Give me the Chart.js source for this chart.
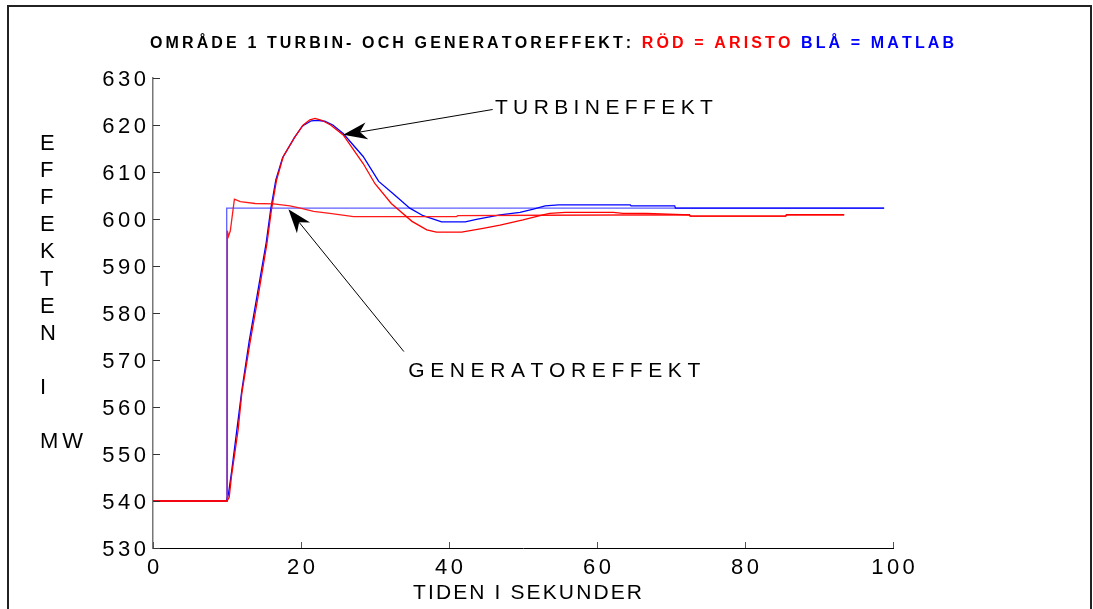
<!DOCTYPE html>
<html>
<head>
<meta charset="utf-8">
<script src="https://cdn.jsdelivr.net/npm/chart.js@4.4.1/dist/chart.umd.min.js"></script>
<style>
  html, body { margin: 0; padding: 0; background: #fff; }
  canvas { display: block; }
</style>
</head>
<body>
<canvas id="c" width="1093" height="609"></canvas>
<script>
// ---------------- DATA ----------------
const xTicks = [0, 20, 40, 60, 80, 100];
const yTicks = [530, 540, 550, 560, 570, 580, 590, 600, 610, 620, 630];

// Turbine power, ARISTO (red)
const turbRedX = [0, 10.0, 10.3, 10.6, 11.5, 12.0, 13.1, 14.2, 15.4, 16.0, 16.7, 17.6, 19.2, 20.3, 21.2, 21.9, 22.8, 24.0, 25.7, 28.4, 30.0, 32.2, 35.0, 37.0, 38.3, 41.7, 44.6, 46.9, 50.0, 52.7, 53.6, 55.7, 62.2, 63.5, 66.7, 72.5, 72.6, 85.5, 85.6, 93.4];
const turbRedY = [540, 540, 540.8, 545.2, 555.1, 562.9, 573.6, 583.5, 594.8, 601.9, 608.3, 613.3, 617.5, 620.0, 621.1, 621.4, 621.0, 620.0, 617.9, 611.8, 607.5, 603.3, 599.5, 597.7, 597.2, 597.2, 598.0, 598.7, 599.8, 600.9, 601.2, 601.4, 601.4, 601.2, 601.2, 600.9, 600.6, 600.6, 600.9, 600.9];

// Generator power, ARISTO (red)
const genRedX = [0, 10.0, 10.05, 10.2, 10.45, 11.0, 11.8, 13.8, 16.3, 18.5, 19.9, 21.7, 23.9, 27.1, 41.0, 41.2, 53.0, 72.5, 72.6, 85.5, 85.6, 93.4];
const genRedY = [540, 540, 597.5, 596.3, 597.5, 604.2, 603.7, 603.3, 603.2, 602.8, 602.3, 601.6, 601.2, 600.5, 600.5, 600.7, 600.8, 600.9, 600.6, 600.6, 600.9, 600.9];

// Turbine power, MATLAB (blue)
const turbBlueX = [0, 9.95, 10.2, 10.6, 11.4, 12.0, 13.0, 14.1, 15.3, 15.9, 16.6, 17.5, 19.1, 20.2, 21.4, 22.2, 23.2, 24.3, 25.7, 28.4, 30.5, 32.5, 34.7, 36.5, 39.0, 42.2, 43.7, 46.9, 49.6, 51.4, 53.0, 54.8, 64.5, 64.6, 70.5, 70.6, 98.8];
const turbBlueY = [540, 540, 541.5, 546.0, 556.0, 563.5, 574.0, 584.0, 595.0, 602.0, 608.3, 613.0, 617.3, 619.8, 620.9, 621.0, 620.8, 620.0, 618.2, 613.3, 608.0, 605.3, 602.3, 600.7, 599.4, 599.4, 599.9, 600.9, 601.4, 602.1, 602.8, 603.0, 603.0, 602.8, 602.8, 602.3, 602.3];

// Generator power, MATLAB (blue)
const genBlueX = [0, 9.95, 9.96, 98.8];
const genBlueY = [540, 540, 602.3, 602.3];

// Text
const titleParts = [
  { text: "OMRÅDE 1 TURBIN- OCH GENERATOREFFEKT: ", color: "#000000" },
  { text: "RÖD = ARISTO ", color: "#ff0000" },
  { text: "BLÅ = MATLAB", color: "#0000ff" }
];
const yTitleLines = ["E", "F", "F", "E", "K", "T", "E", "N", "", "I", "", "MW"];
const xTitle = "TIDEN I SEKUNDER";
const annotations = [
  { label: "TURBINEFFEKT", textAt: [46.2, 623.6], textWidth: 218, from: [45.9, 623.3], to: [25.7, 617.9] },
  { label: "GENERATOREFFEKT", textAt: [34.5, 567.7], textWidth: 292, from: [33.9, 571.8], to: [18.3, 602.1] }
];

// ---------------- HELPERS ----------------
const zip = (xs, ys) => xs.map((x, i) => ({ x: x, y: ys[i] }));
const FONT = '"Liberation Sans", Arial, Helvetica, sans-serif';

function naturalWidth(ctx, text) {
  let w = 0;
  for (const ch of text) w += ctx.measureText(ch).width;
  return w;
}
function drawSpaced(ctx, text, x, y, spacing, align) {
  const chars = [...text];
  const widths = chars.map(c => ctx.measureText(c).width);
  const total = widths.reduce((a, b) => a + b, 0) + spacing * (chars.length - 1);
  let cx = align === 'right' ? x - total : (align === 'center' ? x - total / 2 : x);
  ctx.textAlign = 'left';
  chars.forEach((c, i) => { ctx.fillText(c, cx, y); cx += widths[i] + spacing; });
  return cx;
}
function drawArrow(ctx, x1, y1, x2, y2) {
  const dx = x2 - x1, dy = y2 - y1;
  const L = Math.hypot(dx, dy);
  const ux = dx / L, uy = dy / L;
  const px = -uy, py = ux;
  const headLen = 24, halfW = 8.5, notch = 17;
  ctx.save();
  ctx.strokeStyle = '#000';
  ctx.lineWidth = 1;
  ctx.beginPath();
  ctx.moveTo(x1, y1);
  ctx.lineTo(x2 - ux * notch, y2 - uy * notch);
  ctx.stroke();
  ctx.fillStyle = '#000';
  ctx.beginPath();
  ctx.moveTo(x2, y2);
  ctx.lineTo(x2 - ux * headLen + px * halfW, y2 - uy * headLen + py * halfW);
  ctx.lineTo(x2 - ux * notch, y2 - uy * notch);
  ctx.lineTo(x2 - ux * headLen - px * halfW, y2 - uy * headLen - py * halfW);
  ctx.closePath();
  ctx.fill();
  ctx.restore();
}

// ---------------- PLUGIN ----------------
const decorations = {
  id: 'decorations',
  beforeDraw(chart) {
    const ctx = chart.ctx;
    ctx.save();
    ctx.fillStyle = '#fff';
    ctx.fillRect(0, 0, chart.width, chart.height);
    ctx.restore();
  },
  afterDraw(chart) {
    const ctx = chart.ctx;
    const xs = chart.scales.x, ys = chart.scales.y;
    const area = chart.chartArea;
    ctx.save();

    // outer frame (left, top, right)
    ctx.strokeStyle = '#222';
    ctx.lineWidth = 2;
    ctx.beginPath();
    ctx.moveTo(8, chart.height + 2);
    ctx.lineTo(8, 6);
    ctx.lineTo(1091, 6);
    ctx.lineTo(1091, chart.height + 2);
    ctx.stroke();

    // inward ticks
    ctx.lineWidth = 1;
    ctx.strokeStyle = '#333';
    yTicks.forEach(v => {
      const py = Math.round(ys.getPixelForValue(v)) + 0.5;
      ctx.beginPath(); ctx.moveTo(area.left, py); ctx.lineTo(area.left + 7, py); ctx.stroke();
    });
    ctx.strokeStyle = '#555';
    xTicks.forEach(v => {
      const px = Math.round(xs.getPixelForValue(v)) + 0.5;
      ctx.beginPath(); ctx.moveTo(px, area.bottom); ctx.lineTo(px, area.bottom - 6); ctx.stroke();
    });

    // tick labels
    ctx.fillStyle = '#000';
    ctx.font = '22px ' + FONT;
    ctx.textBaseline = 'middle';
    yTicks.forEach(v => {
      drawSpaced(ctx, String(v), area.left - 7, ys.getPixelForValue(v) + 2, 3.5, 'right');
    });
    xTicks.forEach(v => {
      drawSpaced(ctx, String(v), xs.getPixelForValue(v), area.bottom + 20, 3.5, 'center');
    });

    // y title (stacked letters)
    ctx.font = '22px ' + FONT;
    yTitleLines.forEach((t, i) => {
      if (t) drawSpaced(ctx, t, 40, 144 + i * 27.1, 4, 'left');
    });

    // x title
    ctx.font = '21px ' + FONT;
    {
      const nat = naturalWidth(ctx, xTitle);
      const sp = (229 - nat) / (xTitle.length - 1);
      drawSpaced(ctx, xTitle, 413, 593, sp, 'left');
    }

    // title
    ctx.font = 'bold 16px ' + FONT;
    {
      const full = titleParts.map(p => p.text).join('');
      const nat = naturalWidth(ctx, full);
      const sp = (804 - nat) / ([...full].length - 1);
      let cx = 150;
      titleParts.forEach(p => {
        ctx.fillStyle = p.color;
        cx = drawSpaced(ctx, p.text, cx, 44, sp, 'left');
      });
    }

    // annotations
    ctx.font = '21px ' + FONT;
    annotations.forEach(a => {
      drawArrow(ctx,
        xs.getPixelForValue(a.from[0]), ys.getPixelForValue(a.from[1]),
        xs.getPixelForValue(a.to[0]), ys.getPixelForValue(a.to[1]));
      const nat = naturalWidth(ctx, a.label);
      const sp = (a.textWidth - nat) / (a.label.length - 1);
      ctx.fillStyle = '#000';
      drawSpaced(ctx, a.label, xs.getPixelForValue(a.textAt[0]), ys.getPixelForValue(a.textAt[1]), sp, 'left');
    });

    ctx.restore();
  }
};

// ---------------- CHART ----------------
const lineDs = (xs, ys, color, width) => ({
  data: zip(xs, ys),
  showLine: true,
  borderColor: color,
  borderWidth: width,
  pointRadius: 0,
  fill: false,
  tension: 0
});

new Chart(document.getElementById('c').getContext('2d'), {
  type: 'scatter',
  data: {
    datasets: [
      lineDs(turbRedX, turbRedY, '#ff0000', 1.3),
      lineDs(genRedX, genRedY, '#ff1a1a', 1.3),
      lineDs(turbBlueX, turbBlueY, '#0000ff', 1.3),
      lineDs(genBlueX, genBlueY, 'rgba(40,40,255,0.75)', 1.3)
    ]
  },
  options: {
    responsive: false,
    animation: false,
    devicePixelRatio: 1,
    layout: { padding: { left: 0, right: 200, top: 78, bottom: 0 } },
    plugins: { legend: { display: false }, tooltip: { enabled: false }, title: { display: false } },
    scales: {
      x: {
        type: 'linear', min: 0, max: 100,
        ticks: { display: false, stepSize: 20 },
        grid: { display: false },
        border: { display: true, color: '#000', width: 1 },
        afterFit(s) { s.height = 61; }
      },
      y: {
        type: 'linear', min: 530, max: 630,
        ticks: { display: false, stepSize: 10 },
        grid: { display: false },
        border: { display: true, color: '#777', width: 1.5 },
        afterFit(s) { s.width = 153; }
      }
    }
  },
  plugins: [decorations]
});
</script>
</body>
</html>
